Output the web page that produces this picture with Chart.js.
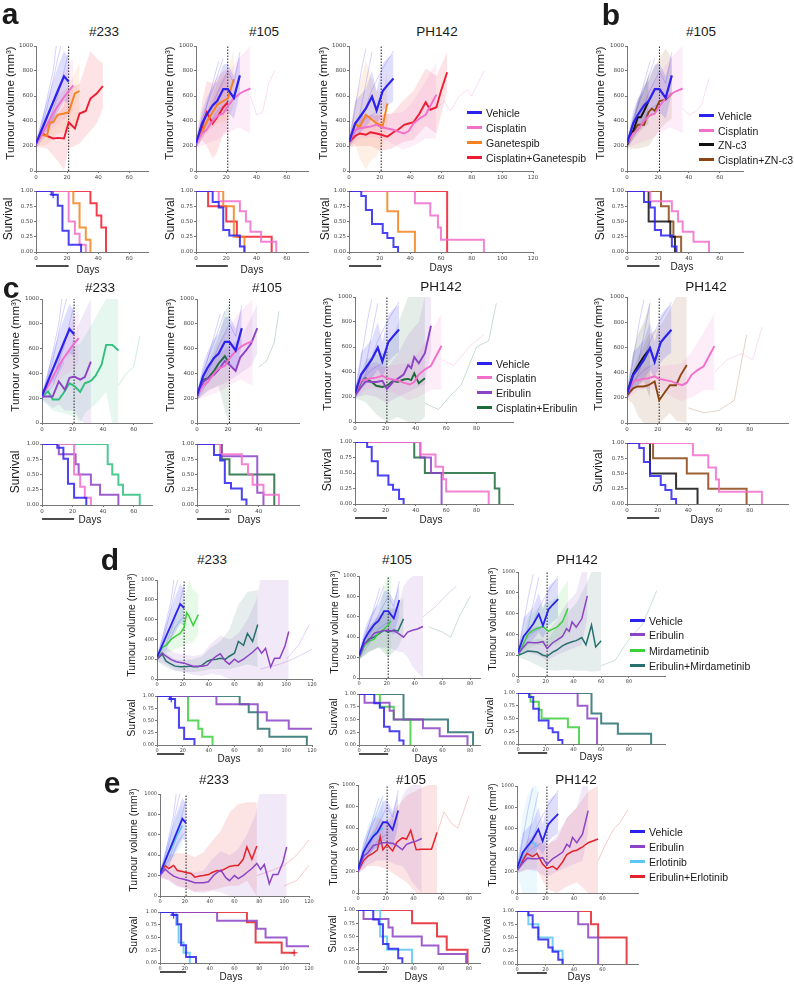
<!DOCTYPE html>
<html><head><meta charset="utf-8">
<script src="https://cdn.jsdelivr.net/npm/chart.js@4.4.1/dist/chart.umd.min.js"></script>
<style>
  body { margin:0; background:#fff; }
  #fig { position:relative; width:794px; height:984px; overflow:hidden; font-family:"Liberation Sans", Arial, sans-serif; color:#1a1a1a; }
  #fig canvas { position:absolute; }
  .lab { position:absolute; white-space:nowrap; line-height:1; transform:translate(-50%,-50%); }
  .rot { transform:translate(-50%,-50%) rotate(-90deg); }
  .leg { position:absolute; font-size:10.5px; line-height:1; white-space:nowrap; }
  .leg i { display:inline-block; width:15px; height:3px; vertical-align:middle; margin-right:4px; position:relative; top:-1px; }
</style></head>
<body><div id="fig"></div>
<script>
// colours
const BLUE = '#2b22ee', PINK = '#f26fcb', ORANGE = '#f5821f', RED = '#ee1c30';
const BLACK = '#111111', BROWN = '#8b4513', PURPLE = '#8c43c6', DKGREEN = '#1d6b3b';
const MINT = '#2fbf7c', GREEN = '#3cd03c', TEAL = '#28706e', LTBLUE = '#5cc6f7', RED2 = '#e4222a';

// ---- data: [day, mean], bands [day, lo, hi], survival [day, S] ----
// vehicle, #233
const veh233 = [[0,220],[4,340],[7,430],[11,550],[14,640],[18,757],[21,715]];
const veh233Band = [[0,195,250],[4,270,430],[7,320,560],[11,400,720],[14,470,830],[18,560,960],[21,540,900]];
const veh233Surv = [[0,1],[10,0.94],[14,0.76],[17,0.35],[21,0.12],[29,0]];
const veh233Cens = [[11,0.94]];
const veh233Mice = [[[0,200],[7,500],[14,900],[16,1000]], [[0,230],[7,350],[14,600],[18,800],[21,950]], [[0,210],[4,400],[11,800],[13,1000]], [[0,190],[7,300],[14,520],[21,640]]];
// cisplatin, #233
const cis233 = [[0,220],[4,300],[7,370],[11,460],[14,520],[18,590],[21,640],[24,685]];
const cis233Band = [[0,195,250],[7,300,460],[14,380,680],[21,440,850],[24,480,900]];
const cis233Surv = [[0,1],[21,0.5],[25,0.3],[28,0.12],[32,0]];
// ganetespib, #233
const gan233 = [[0,220],[4,290],[7,280],[9,390],[11,390],[14,450],[18,460],[21,470],[25,620],[28,640]];
const gan233Band = [[0,195,250],[7,210,380],[14,300,600],[21,320,680],[28,420,870]];
const gan233Surv = [[0,1],[24,0.8],[28,0.4],[32,0.2],[35,0]];
// cisplatin+ganetespib, #233
const cg233 = [[0,220],[4,300],[7,280],[11,260],[14,265],[18,260],[21,390],[25,340],[28,460],[32,480],[35,580],[39,620],[43,680]];
const cg233Band = [[0,195,250],[7,180,400],[14,80,460],[18,10,520],[21,180,660],[28,220,700],[35,320,960],[39,380,900],[43,500,860]];
const cg233Surv = [[0,1],[35,0.8],[39,0.6],[42,0.4],[45,0]];

// vehicle, #105
const veh105 = [[0,220],[4,380],[7,450],[11,525],[14,560],[18,655],[21,655],[25,585],[29,765]];
const veh105Band = [[0,185,255],[4,300,480],[7,340,580],[11,400,680],[14,420,720],[18,480,850],[21,470,860],[25,420,760],[29,620,920]];
const veh105Surv = [[0,1],[11,0.82],[15,0.73],[18,0.36],[22,0.27],[29,0.09],[32,0]];
const veh105Mice = [[[0,200],[7,520],[11,700],[15,880]], [[0,230],[7,400],[14,620],[21,800],[25,700],[29,950]], [[0,210],[4,420],[11,650],[18,900]], [[0,190],[7,330],[14,480],[22,560]]];
// cisplatin, #105
const cis105 = [[0,220],[4,300],[7,330],[11,400],[14,440],[18,460],[21,520],[25,580],[29,620],[32,640],[36,660]];
const cis105Band = [[0,185,255],[7,220,460],[14,250,650],[21,300,780],[28,350,900],[36,300,1000]];
const cis105Surv = [[0,1],[15,0.83],[29,0.67],[33,0.5],[36,0.33],[43,0.17],[53,0]];
// ganetespib, #105
const gan105 = [[0,220],[4,310],[7,390],[11,470],[14,530],[18,560],[21,580],[25,735]];
const gan105Band = [[0,185,255],[7,300,480],[14,380,700],[21,400,800],[25,520,980]];
const gan105Surv = [[0,1],[18,0.75],[25,0.25],[32,0]];
// cisplatin+ganetespib, #105
const cg105 = [[0,220],[4,350],[7,470],[11,380],[14,430],[18,510],[21,550]];
const cg105Band = [[0,185,255],[4,250,550],[7,200,720],[11,100,700],[14,150,750],[18,300,800],[21,320,820]];
const cg105Surv = [[0,1],[8,0.75],[20,0.5],[27,0.25],[50,0]];

// vehicle, PH142
const vehPH = [[0,230],[4,380],[7,430],[11,500],[15,595],[18,485],[22,640],[25,685],[29,740]];
const vehPHBand = [[0,190,270],[4,260,560],[7,300,600],[11,350,660],[15,420,800],[18,360,640],[22,480,860],[25,520,900],[29,560,940]];
const vehPHSurv = [[0,1],[8,0.92],[11,0.69],[15,0.46],[22,0.31],[25,0.23],[29,0.08],[32,0]];
const vehPHMice = [[[0,210],[4,500],[8,800],[11,980]], [[0,240],[7,450],[11,700],[15,950]], [[0,220],[7,380],[15,650],[22,820],[29,960]], [[0,200],[4,330],[11,420],[18,470]]];
// cisplatin, PH142
const cisPH = [[0,230],[4,330],[7,340],[11,350],[14,355],[18,370],[21,350],[25,340],[29,330],[32,315],[36,300],[39,320],[42,380],[46,420],[50,450],[53,520],[57,610]];
const cisPHBand = [[0,190,270],[7,260,440],[14,270,450],[21,260,450],[28,220,460],[35,170,470],[42,200,560],[50,260,720],[57,260,870]];
const cisPHSurv = [[0,1],[43,0.8],[53,0.6],[58,0.4],[60,0.2],[88,0]];
// ganetespib, PH142
const ganPH = [[0,230],[4,380],[7,350],[11,450],[14,420],[18,380],[22,360],[25,540]];
const ganPHBand = [[0,190,270],[4,220,560],[7,100,700],[11,10,880],[14,80,760],[18,120,640],[22,200,620],[25,330,800]];
const ganPHSurv = [[0,1],[25,0.67],[32,0.33],[43,0]];
// cisplatin+ganetespib, PH142
const cgPH = [[0,230],[4,280],[7,300],[11,290],[14,310],[18,300],[21,290],[25,275],[29,310],[32,330],[36,370],[39,380],[42,390],[46,460],[50,550],[53,490],[57,510],[60,640],[64,790]];
const cgPHBand = [[0,190,270],[7,200,420],[14,200,440],[21,160,450],[28,180,460],[35,230,560],[42,250,640],[50,360,820],[57,300,760],[64,640,950]];
const cgPHSurv = [[0,1],[64,0]];

// ZN-c3 and cisplatin+ZN-c3, #105
const zn105 = [[0,210],[4,320],[7,430],[9,430],[11,480],[14,560]];
const zn105Band = [[0,180,240],[4,250,420],[7,300,580],[11,350,640],[14,380,780]];
const zn105Surv = [[0,1],[14,0.5],[28,0.25],[31,0]];
const czn105 = [[0,210],[4,310],[7,370],[11,370],[14,470],[16,500],[18,480],[21,560],[25,570],[29,620]];
const czn105Band = [[0,180,240],[7,180,560],[14,200,760],[21,330,900],[25,380,980],[29,420,900]];
const czn105Surv = [[0,1],[22,0.75],[27,0.5],[30,0.25],[35,0]];

// eribulin and cisplatin+eribulin (panel c)
const eriC233 = [[0,214],[4,214],[7,214],[11,335],[15,268],[18,365],[21,375],[25,350],[28,370],[32,495]];
const eriC233Band = [[0,190,240],[7,120,330],[11,150,560],[15,100,480],[21,100,700],[25,20,820],[28,0,900],[32,0,1000]];
const eriC233Surv = [[0,1],[11,0.83],[22,0.67],[24,0.5],[32,0.33],[38,0.17],[50,0]];
const ceC233 = [[0,214],[4,255],[7,190],[11,190],[14,240],[18,320],[21,300],[25,250],[28,320],[32,340],[35,380],[39,470],[42,630],[46,630],[50,585]];
const ceC233Band = [[0,190,240],[7,100,300],[14,80,480],[21,50,620],[25,0,640],[28,80,700],[35,150,850],[42,250,1000],[46,0,1000],[50,0,1000]];
const ceC233Surv = [[0,1],[43,0.67],[46,0.5],[50,0.33],[53,0.17],[64,0]];
const eriC105 = [[0,214],[4,330],[7,360],[11,390],[14,430],[18,500],[21,470],[25,420],[28,530],[32,590],[35,640],[39,765]];
const eriC105Band = [[0,185,245],[7,260,470],[14,300,560],[21,340,620],[28,400,680],[35,460,850],[39,560,960]];
const eriC105Surv = [[0,1],[16,0.8],[39,0.2],[43,0]];
const ceC105 = [[0,214],[4,350],[7,360],[11,420],[14,480],[18,540],[21,480]];
const ceC105Band = [[0,185,245],[7,260,480],[14,300,700],[18,100,900],[21,0,950]];
const ceC105Surv = [[0,1],[16,0.75],[21,0.5],[50,0]];
const eriPH = [[0,210],[4,280],[7,325],[11,320],[14,320],[18,330],[21,265],[25,320],[28,345],[32,380],[35,455],[37,430],[39,520],[42,470],[46,550],[50,770]];
const eriPHBand = [[0,190,260],[7,220,450],[14,200,480],[21,150,430],[28,200,540],[35,240,700],[42,280,800],[46,300,1000],[50,560,1000]];
const eriPHSurv = [[0,1],[43,0.75],[50,0.5],[57,0]];
const ceCPH = [[0,220],[4,320],[7,350],[11,320],[14,290],[18,280],[21,290],[25,330],[28,320],[32,340],[35,345],[37,335],[39,390],[42,310],[46,350]];
const ceCPHBand = [[0,190,260],[7,160,500],[14,60,540],[21,0,560],[28,40,780],[35,0,1000],[42,0,1000],[46,40,1000]];
const ceCPHSurv = [[0,1],[39,0.75],[46,0.5],[92,0.25],[95,0]];
// ZN-c3 and cisplatin+ZN-c3, PH142
const znPH = [[0,235],[4,390],[7,450],[11,530],[15,590]];
const znPHBand = [[0,190,270],[4,280,560],[7,300,700],[11,330,800],[15,200,960]];
const znPHSurv = [[0,1],[15,0.5],[32,0.25],[46,0]];
const cznPH = [[0,220],[4,275],[7,290],[11,290],[14,300],[18,330],[21,180],[25,250],[28,300],[32,300],[35,380],[39,460]];
const cznPHBand = [[0,190,260],[4,150,420],[7,60,520],[11,0,620],[14,0,700],[21,0,760],[28,80,900],[32,20,1000],[39,0,1000]];
const cznPHSurv = [[0,1],[17,0.75],[39,0.5],[53,0.25],[78,0]];

// panel d: mirdametinib, eribulin, combination
const mir233 = [[0,200],[4,320],[7,340],[11,400],[14,430],[18,460],[21,520],[23,670],[25,630],[28,540],[32,650]];
const mir233Band = [[0,180,230],[7,260,430],[14,300,580],[21,330,800],[25,380,1000],[28,360,900],[32,460,860]];
const mir233Surv = [[0,1],[24,0.5],[32,0.33],[35,0.17],[43,0]];
const eri233 = [[0,200],[4,265],[7,230],[11,195],[15,175],[21,160],[28,130],[35,130],[39,140],[43,200],[46,230],[49,255],[53,180],[56,150],[60,200],[63,170],[67,200],[70,230],[74,270],[78,320],[81,260],[84,310],[88,120],[91,210],[95,210],[99,330],[102,480]];
const eri233Band = [[0,180,230],[7,150,320],[14,90,260],[21,70,250],[28,40,230],[35,30,250],[42,50,360],[49,40,440],[56,0,400],[63,0,460],[70,0,600],[77,0,800],[80,0,1000],[88,0,1000],[95,0,1000],[102,0,1000]];
const eri233Surv = [[0,1],[46,0.83],[78,0.67],[85,0.5],[102,0.33],[120,0.33]];
const em233 = [[0,200],[4,250],[7,180],[11,150],[14,130],[18,125],[21,125],[25,130],[28,125],[32,125],[35,140],[39,180],[42,195],[46,200],[49,210],[53,200],[56,230],[60,260],[63,380],[67,340],[70,460],[74,380],[78,550]];
const em233Band = [[0,180,230],[7,120,260],[14,80,200],[21,70,190],[28,70,200],[35,80,230],[42,100,320],[49,100,380],[56,100,500],[63,120,750],[70,150,880],[78,120,900]];
const em233Surv = [[0,1],[64,0.83],[71,0.67],[78,0.33],[87,0.17],[116,0]];
const mir105 = [[0,200],[4,320],[7,360],[11,380],[14,440],[18,480],[21,520],[23,560]];
const mir105Band = [[0,180,230],[7,260,470],[14,300,600],[18,280,900],[21,200,1000],[23,250,1000]];
const mir105Surv = [[0,1],[15,0.75],[25,0.5],[37,0]];
const eri105 = [[0,200],[4,340],[7,370],[11,440],[14,450],[18,465],[21,465],[25,460],[28,440],[32,400],[35,450],[39,470],[42,480],[46,505]];
const eri105Band = [[0,180,230],[7,260,500],[14,300,620],[21,300,650],[28,260,700],[32,250,900],[35,200,960],[39,100,1000],[46,0,1000]];
const eri105Surv = [[0,1],[4,0.83],[22,0.67],[25,0.5],[46,0.33],[58,0.17],[78,0]];
const em105 = [[0,200],[4,330],[7,380],[11,400],[14,430],[18,470],[21,450],[25,470],[28,460],[32,580]];
const em105Band = [[0,180,230],[7,250,500],[14,300,600],[21,200,680],[28,300,700],[32,420,800]];
const em105Surv = [[0,1],[32,0.5],[64,0.25],[82,0]];
const mirPH = [[0,200],[4,310],[7,400],[11,440],[14,460],[18,475],[22,430],[25,450],[28,470],[32,520],[36,650]];
const mirPHBand = [[0,180,230],[7,260,560],[14,300,650],[21,290,700],[28,300,760],[36,420,920]];
const mirPHSurv = [[0,1],[9,0.83],[15,0.67],[17,0.5],[36,0.33],[44,0]];
const emPH = [[0,200],[4,220],[7,240],[11,235],[14,230],[18,200],[21,190],[25,230],[28,250],[32,290],[35,310],[39,330],[42,340],[46,370],[49,300],[53,490],[56,280],[60,340]];
const emPHBand = [[0,180,230],[7,150,320],[14,100,360],[21,60,340],[28,50,480],[35,60,600],[42,50,700],[49,50,880],[53,40,1000],[60,50,1000]];
const emPHSurv = [[0,1],[53,0.6],[60,0.4],[72,0.2],[96,0]];

// panel e: erlotinib and eribulin+erlotinib
const erl233 = [[0,210],[4,330],[7,420],[11,520],[14,600],[18,690]];
const erl233Band = [[0,185,240],[7,300,560],[14,430,800],[18,500,900]];
const erl233Surv = [[0,1],[13,0.75],[15,0.4],[19,0.2],[24,0]];
const ee233 = [[0,210],[4,300],[7,270],[11,300],[14,250],[18,240],[21,230],[25,220],[28,185],[32,195],[35,200],[39,210],[42,230],[46,250],[49,245],[53,270],[56,290],[60,300],[63,300],[67,360],[70,480],[74,360],[78,490]];
const ee233Band = [[0,185,240],[7,160,400],[14,100,420],[21,80,420],[28,40,380],[35,50,430],[42,60,540],[49,80,640],[56,100,820],[63,100,900],[70,150,920],[78,0,920]];
const ee233Surv = [[0,1],[70,0.8],[77,0.4],[98,0.2],[109,0.2]];
const ee233Cens = [[108,0.2]];
const erl105 = [[0,200],[4,380],[7,460],[11,540],[14,570],[18,600]];
const erl105Band = [[0,180,240],[7,320,620],[14,420,800],[18,450,900]];
const erl105Surv = [[0,1],[16,0.5],[21,0.25],[39,0]];
const ee105 = [[0,200],[4,300],[7,340],[11,370],[14,400],[16,520],[18,400],[21,450],[25,390],[28,470],[32,510],[35,500],[38,580],[42,400],[46,405],[53,405],[57,560]];
const ee105Band = [[0,180,240],[7,250,480],[14,250,700],[21,220,650],[28,160,800],[35,100,900],[42,0,950],[50,0,1000],[57,0,1000]];
const ee105Surv = [[0,1],[39,0.75],[57,0.5],[64,0.25],[79,0]];
const erlPH = [[0,200],[4,360],[7,430],[11,480],[14,430]];
const erlPHBand = [[0,180,240],[4,0,720],[7,0,900],[11,0,1000],[14,0,1000]];
const erlPHSurv = [[0,1],[8,0.75],[15,0.5],[25,0.25],[32,0]];
const eePH = [[0,210],[4,300],[7,370],[11,340],[14,370],[18,270],[21,230],[25,250],[28,220],[32,290],[35,360],[39,390],[42,400],[46,430],[50,470],[57,505]];
const eePHBand = [[0,180,240],[7,220,500],[14,220,560],[21,40,460],[28,0,500],[35,60,700],[42,100,800],[50,0,950],[57,0,1000]];
const eePHSurv = [[0,1],[52,0.75],[57,0.5],[77,0]];

// faint individual tumours that outlive their group mean
const tailA2 = [[36,600],[40,450],[44,470],[48,700],[52,800]];
const tailA3 = [[57,500],[62,560],[66,480],[72,600],[77,650],[80,600],[88,800]];
const tailB = [[36,500],[40,450],[44,470],[48,520],[53,740]];
const tailC1 = [[50,300],[55,400],[60,450],[64,700]];
const tailC2 = [[40,450],[45,500],[50,650],[53,900]];
const tailC3a = [[46,150],[55,100],[62,200],[70,300],[80,600],[88,650],[93,950]];
const tailC3b = [[57,500],[65,450],[75,600],[85,700]];
const tailC4a = [[57,400],[65,500],[75,550],[82,500],[88,760]];
const tailC4b = [[40,120],[50,80],[60,100],[70,180],[78,700]];
const tailD1a = [[100,200],[110,350],[118,550]];
const tailD1b = [[80,100],[95,150],[105,200],[120,300]];
const tailD2a = [[46,600],[55,700],[62,800],[70,900]];
const tailD2b = [[50,500],[60,450],[66,400],[72,600],[80,800]];
const tailD3 = [[60,100],[70,150],[80,350],[90,500],[100,820]];
const tailE1a = [[78,200],[90,250],[100,300],[110,400],[120,550]];
const tailE1b = [[100,100],[110,150],[120,300]];
const tailE2 = [[57,550],[62,750],[67,650],[72,600],[80,900]];
const tailE3 = [[57,300],[62,450],[68,600],[72,650],[78,780]];

// tick label sets
const volTicks = [0, 200, 400, 600, 800, 1000];
const survTicks = [0, 0.25, 0.5, 0.75, 1];

// groups
const g = (v, b, s, c, cens, mice) => ({ v, b, s, c, cens, mice });
const gVeh233 = g(veh233, veh233Band, veh233Surv, BLUE, veh233Cens, veh233Mice);
const gVeh105 = g(veh105, veh105Band, veh105Surv, BLUE, null, veh105Mice);
const gVehPH = g(vehPH, vehPHBand, vehPHSurv, BLUE, null, vehPHMice);
const gCis233 = g(cis233, cis233Band, cis233Surv, PINK);
const gCis105 = g(cis105, cis105Band, cis105Surv, PINK);
const gCisPH = g(cisPH, cisPHBand, cisPHSurv, PINK);

const fig = document.getElementById('fig');

function rgba(hex, a) {
  const n = parseInt(hex.slice(1), 16);
  return `rgba(${n >> 16},${(n >> 8) & 255},${n & 255},${a})`;
}
const pts = (arr, k) => arr.map(p => ({ x: p[0], y: p[k || 1] }));

const PADL = 28, PADR = 10, PADT = 6;

function makeChart(L, R, T, B, padB, xmax, yTicks, fmt, datasets, fs, barOff) {
  const c = document.createElement('canvas');
  const w = PADL + (R - L) + PADR, h = PADT + (B - T) + padB;
  c.width = w; c.height = h;
  c.style.left = (L - PADL) + 'px';
  c.style.top = (T - PADT) + 'px';
  c.style.width = w + 'px';
  c.style.height = h + 'px';
  fig.appendChild(c);
  const tickFont = { family: 'DejaVu Sans', size: fs };
  // black bar marking the 21-day treatment window
  const dayBar = {
    id: 'daybar',
    afterDraw(chart) {
      if (barOff == null) return;
      const xs = chart.scales.x, ctx = chart.ctx;
      const y = chart.chartArea.bottom + barOff;
      ctx.save();
      ctx.strokeStyle = '#111';
      ctx.lineWidth = 1.5;
      ctx.beginPath();
      ctx.moveTo(xs.getPixelForValue(0), y);
      ctx.lineTo(xs.getPixelForValue(21), y);
      ctx.stroke();
      ctx.restore();
    }
  };
  new Chart(c, {
    type: 'line',
    data: { datasets },
    options: {
      responsive: false, animation: false, devicePixelRatio: 1,
      layout: { padding: { left: 0, right: PADR, top: PADT, bottom: 0 } },
      plugins: { legend: { display: false }, tooltip: { enabled: false } },
      elements: { point: { radius: 0 }, line: { tension: 0 } },
      scales: {
        x: {
          type: 'linear', min: 0, max: xmax,
          afterBuildTicks: s => { s.ticks = s.ticks.filter(t => t.value % 20 === 0); },
          ticks: { stepSize: 20, font: tickFont, color: '#444', padding: 1, maxRotation: 0, autoSkip: false },
          grid: { drawOnChartArea: false, tickLength: 2, color: '#777' },
          border: { color: '#777', width: 1 },
          afterFit: s => { s.height = padB; }
        },
        y: {
          type: 'linear', min: yTicks[0], max: yTicks[yTicks.length - 1],
          afterBuildTicks: s => { s.ticks = yTicks.map(v => ({ value: v })); },
          ticks: { font: tickFont, color: '#444', padding: 1, callback: fmt, autoSkip: false },
          grid: { drawOnChartArea: false, tickLength: 2, color: '#777' },
          border: { color: '#777', width: 1 },
          afterFit: s => { s.width = PADL; }
        }
      }
    },
    plugins: [dayBar]
  });
}

function addText(txt, x, y, size, cls, bold) {
  const d = document.createElement('div');
  d.className = 'lab' + (cls ? ' ' + cls : '');
  d.textContent = txt;
  d.style.left = x + 'px';
  d.style.top = y + 'px';
  d.style.fontSize = size + 'px';
  if (bold) d.style.fontWeight = 'bold';
  fig.appendChild(d);
}

function legend(x, ys, items) {
  items.forEach((it, i) => {
    const d = document.createElement('div');
    d.className = 'leg';
    d.style.left = x + 'px';
    d.style.top = (ys[i] - 5.5) + 'px';
    d.innerHTML = `<i style="background:${it[1]}"></i>${it[0]}`;
    fig.appendChild(d);
  });
}

function panel(p) {
  const small = p.small;
  const lw = small ? 1.5 : 1.9;
  const vol = [], surv = [];
  p.groups.forEach((gr, i) => {
    const col = (p.colors && p.colors[i]) || gr.c;
    vol.push({ data: pts(gr.v), borderColor: col, borderWidth: i === 0 ? lw + 0.3 : lw, pointRadius: 0 });
    surv.push({ data: pts(gr.s), borderColor: rgba(col, 0.85), borderWidth: 2, stepped: 'before', pointRadius: 0 });
    if (gr.cens && (!p.noCens || !p.noCens.includes(i))) {
      surv.push({ data: pts(gr.cens), showLine: false, pointStyle: 'cross', pointRadius: 3.5, borderColor: col, borderWidth: 1 });
    }
  });
  (p.extraCens || []).forEach(ec => {
    surv.push({ data: pts(ec[0]), showLine: false, pointStyle: 'cross', pointRadius: 3.5, borderColor: ec[1], borderWidth: 1 });
  });
  vol.push({ data: [{ x: 21, y: 0 }, { x: 21, y: 1000 }], borderColor: '#222', borderWidth: 1, borderDash: [1.5, 1.5], pointRadius: 0 });
  (p.tails || []).forEach(t => {
    vol.push({ data: pts(t[0]), borderColor: rgba(t[1], 0.3), borderWidth: 0.8, pointRadius: 0 });
  });
  p.groups.forEach(gr => {
    (gr.mice || []).forEach(m => {
      vol.push({ data: pts(m), borderColor: rgba(gr.c, 0.25), borderWidth: 0.8, pointRadius: 0 });
    });
  });
  p.groups.forEach((gr, i) => {
    const col = (p.colors && p.colors[i]) || gr.c;
    vol.push({ data: pts(gr.b, 1), borderColor: 'rgba(0,0,0,0)', pointRadius: 0, fill: false });
    vol.push({ data: pts(gr.b, 2), borderColor: 'rgba(0,0,0,0)', pointRadius: 0, fill: '-1', backgroundColor: rgba(col, i === 0 ? 0.15 : 0.12) });
  });
  const fs = small ? 5 : 5.5;
  makeChart(p.L, p.R, p.T, p.B, small ? 9 : 10, p.xmax, volTicks, v => String(v), vol, fs, null);
  makeChart(p.L, p.R, p.sT, p.sB, small ? 13 : 18, p.xmax, survTicks, v => v.toFixed(2), surv, fs, small ? 9 : 14);

  addText(p.title, p.tx, p.ty, 13.5);
  addText('Tumour volume (mm³)', p.vx, (p.T + p.B) / 2 - (small ? 5 : 6), small ? 10.5 : 11.5, 'rot');
  addText('Survival', p.sx, (p.sT + p.sB) / 2 - 3, small ? 10.5 : 12, 'rot');
  addText('Days', p.dx, p.dy, 10);
}

const panels = [
  { L: 36, R: 148, T: 46, B: 171, sT: 191, sB: 252, xmax: 72, title: '#233', tx: 104, ty: 32, vx: 11, sx: 8, dx: 88, dy: 270,
    groups: [gVeh233, gCis233, g(gan233, gan233Band, gan233Surv, ORANGE), g(cg233, cg233Band, cg233Surv, RED)] },
  { L: 196, R: 308, T: 46, B: 171, sT: 191, sB: 252, xmax: 74, title: '#105', tx: 264, ty: 32, vx: 170, sx: 170, dx: 252, dy: 270,
    groups: [gVeh105, gCis105, g(gan105, gan105Band, gan105Surv, ORANGE), g(cg105, cg105Band, cg105Surv, RED)],
    tails: [[tailA2, PINK]] },
  { L: 349, R: 533, T: 46, B: 171, sT: 191, sB: 252, xmax: 120, title: 'PH142', tx: 437, ty: 32, vx: 324, sx: 325, dx: 441, dy: 268,
    groups: [gVehPH, gCisPH, g(ganPH, ganPHBand, ganPHSurv, ORANGE), g(cgPH, cgPHBand, cgPHSurv, RED)],
    tails: [[tailA3, PINK]] },
  { L: 627, R: 743, T: 46, B: 171, sT: 191, sB: 252, xmax: 75, title: '#105', tx: 701, ty: 32, vx: 601, sx: 600, dx: 682, dy: 267,
    groups: [gVeh105, gCis105, g(zn105, zn105Band, zn105Surv, BLACK), g(czn105, czn105Band, czn105Surv, BROWN)],
    tails: [[tailB, PINK]] },
  { L: 42, R: 152, T: 299, B: 423, sT: 444, sB: 505, xmax: 72, title: '#233', tx: 100, ty: 288, vx: 16, sx: 15, dx: 90, dy: 520,
    groups: [gVeh233, gCis233, g(eriC233, eriC233Band, eriC233Surv, PURPLE), g(ceC233, ceC233Band, ceC233Surv, MINT)],
    noCens: [0], tails: [[tailC1, MINT]] },
  { L: 197, R: 299, T: 299, B: 423, sT: 444, sB: 505, xmax: 66, title: '#105', tx: 267, ty: 288, vx: 171, sx: 170, dx: 249, dy: 520,
    groups: [gVeh105, gCis105, g(eriC105, eriC105Band, eriC105Surv, PURPLE), g(ceC105, ceC105Band, ceC105Surv, DKGREEN)],
    tails: [[tailC2, DKGREEN]] },
  { L: 355, R: 513, T: 297, B: 422, sT: 442, sB: 504, xmax: 104, title: 'PH142', tx: 441, ty: 287, vx: 328, sx: 327, dx: 431, dy: 520,
    groups: [gVehPH, gCisPH, g(eriPH, eriPHBand, eriPHSurv, PURPLE), g(ceCPH, ceCPHBand, ceCPHSurv, DKGREEN)],
    tails: [[tailC3a, DKGREEN], [tailC3b, PINK]] },
  { L: 627, R: 788, T: 297, B: 423, sT: 443, sB: 504, xmax: 105, title: 'PH142', tx: 706, ty: 287, vx: 599, sx: 598, dx: 702, dy: 520,
    groups: [gVehPH, gCisPH, g(znPH, znPHBand, znPHSurv, BLACK), g(cznPH, cznPHBand, cznPHSurv, BROWN)],
    tails: [[tailC4a, PINK], [tailC4b, BROWN]] },
  { L: 157, R: 312, T: 580, B: 679, sT: 696, sB: 745, xmax: 120, small: true, title: '#233', tx: 212, ty: 560, vx: 131, sx: 131, dx: 229, dy: 759,
    groups: [gVeh233, g(eri233, eri233Band, eri233Surv, PURPLE), g(mir233, mir233Band, mir233Surv, GREEN), g(em233, em233Band, em233Surv, TEAL)],
    tails: [[tailD1a, PURPLE], [tailD1b, PURPLE]] },
  { L: 359, R: 480, T: 576, B: 678, sT: 694, sB: 745, xmax: 87, small: true, title: '#105', tx: 397, ty: 560, vx: 334, sx: 333, dx: 426, dy: 759,
    groups: [gVeh105, g(eri105, eri105Band, eri105Surv, PURPLE), g(mir105, mir105Band, mir105Surv, GREEN), g(em105, em105Band, em105Surv, TEAL)],
    tails: [[tailD2a, PURPLE], [tailD2b, TEAL]] },
  { L: 518, R: 665, T: 572, B: 676, sT: 693, sB: 744, xmax: 106, small: true, title: 'PH142', tx: 577, ty: 560, vx: 492, sx: 489, dx: 591, dy: 757,
    groups: [gVehPH, g(eriPH, eriPHBand, eriPHSurv, PURPLE), g(mirPH, mirPHBand, mirPHSurv, GREEN), g(emPH, emPHBand, emPHSurv, TEAL)],
    tails: [[tailD3, TEAL]] },
  { L: 160, R: 309, T: 794, B: 896, sT: 912, sB: 963, xmax: 120, small: true, title: '#233', tx: 214, ty: 780, vx: 133, sx: 133, dx: 231, dy: 977,
    groups: [gVeh233, g(eri233, eri233Band, eri233Surv, PURPLE), g(erl233, erl233Band, erl233Surv, LTBLUE), g(ee233, ee233Band, ee233Surv, RED2)],
    extraCens: [[ee233Cens, RED2]], tails: [[tailE1a, RED2], [tailE1b, RED2]] },
  { L: 358, R: 480, T: 785, B: 893, sT: 910, sB: 963, xmax: 88, small: true, title: '#105', tx: 411, ty: 780, vx: 333, sx: 332, dx: 416, dy: 977,
    groups: [gVeh105, g(eri105, eri105Band, eri105Surv, PURPLE), g(erl105, erl105Band, erl105Surv, LTBLUE), g(ee105, ee105Band, ee105Surv, RED2)],
    tails: [[tailE2, RED2]] },
  { L: 517, R: 638, T: 786, B: 893, sT: 911, sB: 964, xmax: 85, small: true, title: 'PH142', tx: 576, ty: 780, vx: 492, sx: 486, dx: 579, dy: 977,
    groups: [gVehPH, g(eriPH, eriPHBand, eriPHSurv, PURPLE), g(erlPH, erlPHBand, erlPHSurv, LTBLUE), g(eePH, eePHBand, eePHSurv, RED2)],
    tails: [[tailE3, RED2]] }
];

panels.forEach(panel);

// panel letters
addText('a', 10, 13.5, 30, null, true);
addText('b', 611, 14.5, 30, null, true);
addText('c', 11, 287.5, 30, null, true);
addText('d', 110, 560, 30, null, true);
addText('e', 112, 782.5, 30, null, true);

// legends
legend(467, [113, 128, 143, 158], [['Vehicle', BLUE], ['Cisplatin', PINK], ['Ganetespib', ORANGE], ['Cisplatin+Ganetespib', RED]]);
legend(699, [116, 131, 145, 160], [['Vehicle', BLUE], ['Cisplatin', PINK], ['ZN-c3', BLACK], ['Cisplatin+ZN-c3', BROWN]]);
legend(477, [364, 378, 393, 408], [['Vehicle', BLUE], ['Cisplatin', PINK], ['Eribulin', PURPLE], ['Cisplatin+Eribulin', DKGREEN]]);
legend(630, [621, 635, 651, 666], [['Vehicle', BLUE], ['Eribulin', PURPLE], ['Mirdametinib', GREEN], ['Eribulin+Mirdametinib', TEAL]]);
legend(630, [832, 847, 862, 877], [['Vehicle', BLUE], ['Eribulin', PURPLE], ['Erlotinib', LTBLUE], ['Eribulin+Erlotinib', RED2]]);
</script>
</body></html>
